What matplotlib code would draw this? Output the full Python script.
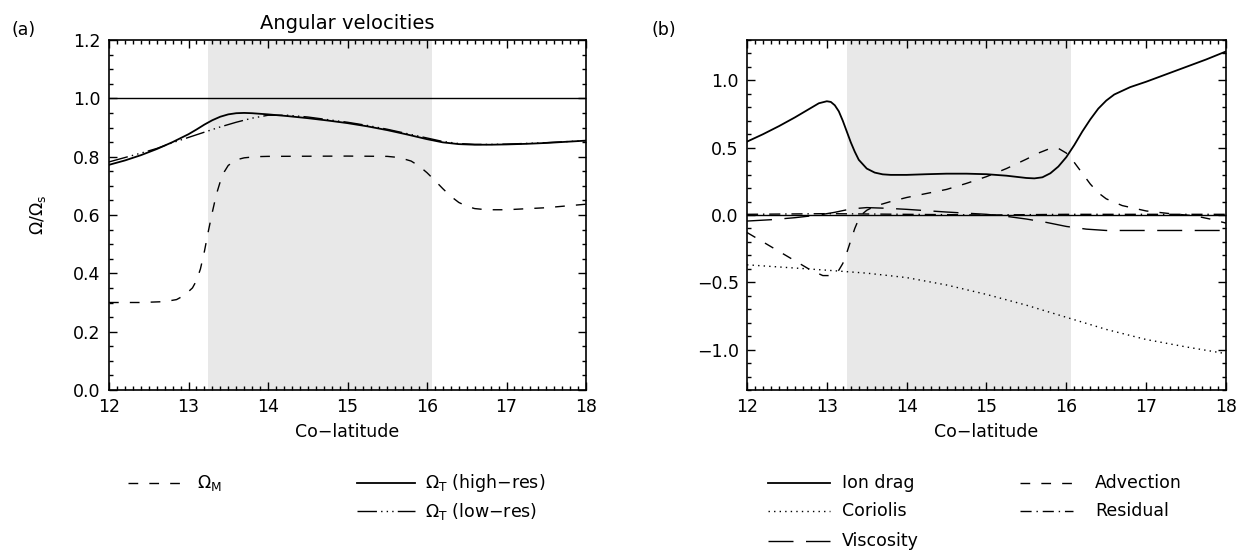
import matplotlib
matplotlib.use("Agg")
import matplotlib.pyplot as plt
from matplotlib.lines import Line2D
from matplotlib.ticker import MultipleLocator, FuncFormatter

plt.rcParams['font.family'] = ['DejaVu Sans']
plt.rcParams['mathtext.fontset'] = 'dejavusans'

# ---------------- data: panel (a) ----------------
shade_band = [13.25, 16.06]

x_high = [12.0, 12.2, 12.4, 12.6, 12.8, 13.0, 13.1, 13.2, 13.3, 13.4, 13.5, 13.6, 13.7, 13.8,
          14.0, 14.25, 14.5, 14.75, 15.0, 15.25, 15.5, 15.75, 16.0, 16.2, 16.4, 16.6, 16.8,
          17.0, 17.25, 17.5, 17.75, 18.0]
omega_t_high = [0.772, 0.787, 0.805, 0.826, 0.850, 0.877, 0.893, 0.910, 0.925, 0.937, 0.945,
                0.949, 0.950, 0.949, 0.945, 0.939, 0.932, 0.924, 0.915, 0.904, 0.891, 0.876,
                0.860, 0.849, 0.843, 0.841, 0.841, 0.842, 0.844, 0.847, 0.851, 0.855]

x_low = [12.0, 12.2, 12.4, 12.6, 12.8, 13.0, 13.2, 13.4, 13.6, 13.8, 14.0, 14.25, 14.5, 14.75,
         15.0, 15.25, 15.5, 15.75, 16.0, 16.2, 16.4, 16.6, 16.8, 17.0, 17.5, 18.0]
omega_t_low = [0.782, 0.797, 0.812, 0.828, 0.848, 0.866, 0.884, 0.902, 0.918, 0.932, 0.942,
               0.942, 0.936, 0.927, 0.918, 0.907, 0.894, 0.879, 0.864, 0.852, 0.845, 0.842,
               0.842, 0.843, 0.848, 0.855]

x_m = [12.0, 12.4, 12.7, 12.85, 12.95, 13.05, 13.1, 13.15, 13.2, 13.25, 13.3, 13.35, 13.4,
       13.45, 13.5, 13.6, 13.7, 13.85, 14.0, 15.0, 15.5, 15.65, 15.8, 15.9, 16.0, 16.1, 16.2,
       16.3, 16.4, 16.5, 16.6, 16.75, 17.0, 17.5, 18.0]
omega_m = [0.300, 0.300, 0.303, 0.310, 0.325, 0.350, 0.375, 0.415, 0.475, 0.545, 0.610, 0.670,
           0.715, 0.748, 0.770, 0.789, 0.796, 0.800, 0.801, 0.802, 0.801, 0.797, 0.785, 0.768,
           0.745, 0.718, 0.690, 0.664, 0.643, 0.630, 0.622, 0.618, 0.618, 0.625, 0.637]

ref_a = 1.0

# ---------------- data: panel (b) ----------------
x_ion = [12.0, 12.2, 12.4, 12.6, 12.8, 12.9, 13.0, 13.05, 13.1, 13.15, 13.2, 13.25, 13.3, 13.35,
         13.4, 13.5, 13.6, 13.7, 13.8, 14.0, 14.25, 14.5, 14.75, 15.0, 15.25, 15.5, 15.6, 15.7,
         15.8, 15.9, 16.0, 16.1, 16.2, 16.3, 16.4, 16.5, 16.6, 16.8, 17.0, 17.25, 17.5, 17.75, 18.0]
ion_drag = [0.545, 0.600, 0.660, 0.725, 0.795, 0.830, 0.845, 0.840, 0.815, 0.770, 0.700, 0.620,
            0.540, 0.470, 0.410, 0.345, 0.315, 0.302, 0.298, 0.298, 0.303, 0.307, 0.307, 0.303,
            0.292, 0.275, 0.272, 0.280, 0.310, 0.360, 0.430, 0.520, 0.620, 0.710, 0.790, 0.850,
            0.895, 0.950, 0.990, 1.045, 1.100, 1.155, 1.215]

x_adv = [12.0, 12.2, 12.4, 12.6, 12.8, 12.95, 13.05, 13.15, 13.2, 13.25, 13.3, 13.35, 13.4, 13.45,
         13.5, 13.6, 13.8, 14.0, 14.25, 14.5, 14.75, 15.0, 15.25, 15.5, 15.65, 15.8, 15.9, 16.0,
         16.1, 16.2, 16.3, 16.4, 16.5, 16.7, 17.0, 17.3, 17.6, 17.8, 18.0]
advection = [-0.13, -0.20, -0.27, -0.34, -0.41, -0.45, -0.45, -0.41, -0.36, -0.28, -0.19, -0.10,
             -0.03, 0.01, 0.035, 0.065, 0.10, 0.13, 0.16, 0.19, 0.235, 0.285, 0.345, 0.415, 0.46,
             0.495, 0.495, 0.46, 0.39, 0.31, 0.23, 0.165, 0.12, 0.07, 0.03, 0.01, -0.005, -0.03,
             -0.06]

x_cor = [12.0, 12.5, 13.0, 13.5, 14.0, 14.5, 15.0, 15.5, 16.0, 16.5, 17.0, 17.5, 18.0]
coriolis = [-0.370, -0.390, -0.410, -0.432, -0.465, -0.520, -0.590, -0.670, -0.760, -0.850,
            -0.925, -0.980, -1.030]

x_vis = [12.0, 12.3, 12.6, 12.9, 13.1, 13.3, 13.5, 13.75, 14.0, 14.5, 15.0, 15.25, 15.5, 15.75,
         16.0, 16.25, 16.5, 17.0, 17.5, 18.0]
viscosity = [-0.045, -0.035, -0.02, 0.0, 0.02, 0.045, 0.055, 0.05, 0.042, 0.022, 0.005, -0.01,
             -0.03, -0.055, -0.085, -0.105, -0.115, -0.115, -0.115, -0.115]

x_res = [12.0, 13.0, 14.0, 15.0, 16.0, 17.0, 18.0]
residual = [0.005, 0.01, 0.005, 0.0, 0.005, 0.005, 0.005]

ref_b = 0.0

# ---------------- styles ----------------
LW = 1.0
DASH = (0, (7, 8))
LONGDASH = (0, (18, 9))
DOT = (0, (1, 3))
DASHDOT = (0, (8, 3.5, 1, 3.5))
DASH3DOT = (0, (14, 3, 1, 3, 1, 3, 1, 3))
SHADE = '#e8e8e8'
FS = 12.5
MINUS = '\u2212'

W, H = 1247, 553
fig = plt.figure(figsize=(W / 100, H / 100), dpi=100)


def fx(px):
    return px / W


def fy(py):
    return 1 - py / H


def fmt1(v, pos):
    s = '%.1f' % v
    if s.startswith('-'):
        s = MINUS + s[1:]
    if s == MINUS + '0.0':
        s = '0.0'
    return s


def style_axes(ax, ymin, ymax, ymaj, ymin_step):
    ax.set_xlim(12, 18)
    ax.set_ylim(ymin, ymax)
    ax.xaxis.set_major_locator(MultipleLocator(1))
    ax.xaxis.set_minor_locator(MultipleLocator(0.1))
    ax.yaxis.set_major_locator(MultipleLocator(ymaj))
    ax.yaxis.set_minor_locator(MultipleLocator(ymin_step))
    ax.yaxis.set_major_formatter(FuncFormatter(fmt1))
    ax.tick_params(which='both', direction='in', top=True, right=True, labelsize=FS,
                   width=1.0, color='black')
    ax.tick_params(which='major', length=5.5, pad=6)
    ax.tick_params(which='minor', length=2.8)
    for s in ax.spines.values():
        s.set_linewidth(1.2)
    ax.set_xlabel('Co' + MINUS + 'latitude', fontsize=FS, labelpad=5)


# ---- panel (a)
ax1 = fig.add_axes([fx(109), fy(390), fx(586) - fx(109), fy(40) - fy(390)])
ax1.axvspan(shade_band[0], shade_band[1], color=SHADE, lw=0, zorder=0)
ax1.axhline(ref_a, color='black', lw=LW)
ax1.plot(x_m, omega_m, color='black', lw=LW, linestyle=DASH)
ax1.plot(x_low, omega_t_low, color='black', lw=LW, linestyle=DASH3DOT)
ax1.plot(x_high, omega_t_high, color='black', lw=1.3)
style_axes(ax1, 0.0, 1.2, 0.2, 0.05)
ax1.set_ylabel(r'$\Omega/\Omega_{\rm s}$', fontsize=FS, labelpad=18)
ax1.set_title('Angular velocities', fontsize=FS + 1.5, pad=8)
fig.text(fx(24), fy(30), '(a)', fontsize=FS, ha='center', va='center')

# ---- panel (b)
ax2 = fig.add_axes([fx(747), fy(390), fx(1226) - fx(747), fy(40) - fy(390)])
ax2.axvspan(shade_band[0], shade_band[1], color=SHADE, lw=0, zorder=0)
ax2.axhline(ref_b, color='black', lw=LW)
ax2.plot(x_cor, coriolis, color='black', lw=LW, linestyle=DOT)
ax2.plot(x_vis, viscosity, color='black', lw=LW, linestyle=LONGDASH)
ax2.plot(x_res, residual, color='black', lw=LW, linestyle=DASHDOT)
ax2.plot(x_adv, advection, color='black', lw=LW, linestyle=DASH)
ax2.plot(x_ion, ion_drag, color='black', lw=1.3)
style_axes(ax2, -1.3, 1.3, 0.5, 0.1)
fig.text(fx(664), fy(30), '(b)', fontsize=FS, ha='center', va='center')

# ---------------- legends (drawn in figure space) ----------------
def leg(x0, x1, y, ls, label, tx, lw=LW):
    fig.add_artist(Line2D([fx(x0), fx(x1)], [fy(y), fy(y)], color='black', lw=lw,
                          linestyle=ls, transform=fig.transFigure))
    fig.text(fx(tx), fy(y), label, fontsize=FS, ha='left', va='center')


leg(128, 182, 483, DASH, r'$\Omega_{\rm M}$', 197)
leg(357, 415, 483, '-', r'$\Omega_{\rm T}$' + ' (high' + MINUS + 'res)', 425, lw=1.3)
leg(357, 415, 511, DASH3DOT, r'$\Omega_{\rm T}$' + ' (low' + MINUS + 'res)', 425)

leg(768, 830, 483, '-', 'Ion drag', 842, lw=1.3)
leg(768, 830, 511, DOT, 'Coriolis', 842)
leg(768, 830, 541, LONGDASH, 'Viscosity', 842)
leg(1020, 1073, 483, DASH, 'Advection', 1095)
leg(1020, 1073, 511, DASHDOT, 'Residual', 1095)

fig.savefig('out.png', dpi=100)
